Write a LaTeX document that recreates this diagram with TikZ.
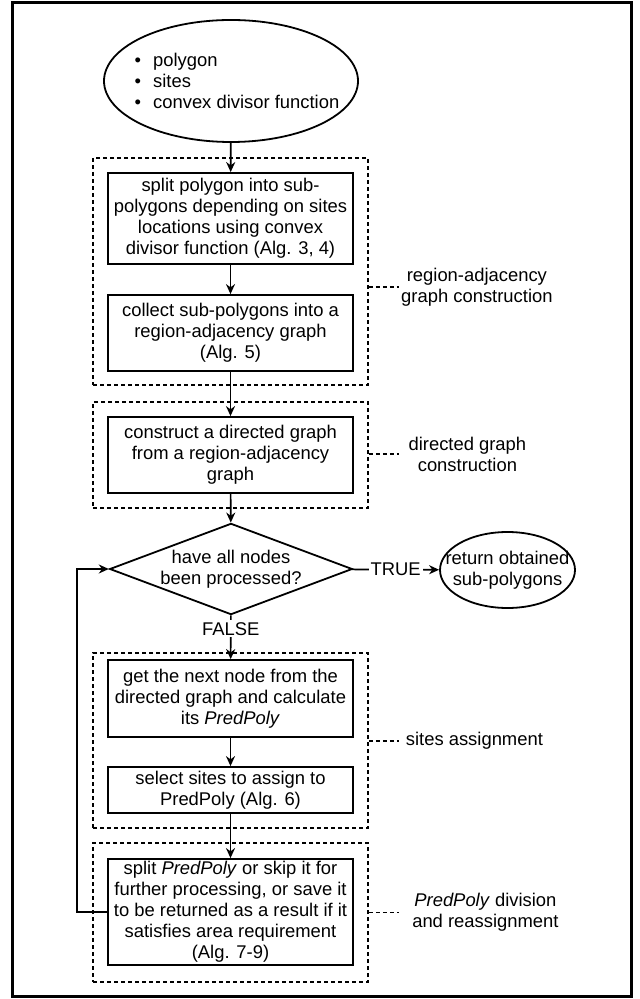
\documentclass[tikz,border=0pt]{standalone}
\usepackage{fontspec}
\setmainfont{Liberation Sans}
\usepackage{tikz}
\usetikzlibrary{calc,shapes.geometric,arrows.meta}

\begin{document}
\begin{tikzpicture}[x=0.5pt, y=-0.5pt, >={Stealth[length=5pt,width=4.5pt]},
        every node/.style={font=\fontsize{9.2pt}{10.5pt}\selectfont},
        stepbox/.style={draw, line width=0.9pt, minimum width=122.5pt, align=center, inner sep=0pt},
        groupbox/.style={draw, dash pattern=on 2pt off 1.5pt, line width=0.8pt, minimum width=137.5pt},
        noteline/.style={dash pattern=on 2pt off 1.5pt, line width=0.8pt},
        note/.style={anchor=west, align=center, inner sep=0pt},
        flow/.style={->, line width=0.8pt}]
        % Frame
        \useasboundingbox (0,0) rectangle (640,999);
        \draw[line width=1.5pt] (12,3) rectangle (631,996);

        % Input
        \node[draw, ellipse, line width=0.9pt, minimum width=127pt, minimum height=61pt, inner sep=0pt,
              label={[align=left, xshift=3pt]center:\textbullet\hspace{6pt}polygon\\\textbullet\hspace{6pt}sites\\\textbullet\hspace{6pt}convex divisor function}] (Input) at (231, 81) {};

        % Groups
        \node[groupbox, minimum height=113.5pt] (GroupRag) at (230.5, 271.5) {};
        \node[groupbox, minimum height=53pt] (GroupDir) at (230.5, 455) {};
        \node[groupbox, minimum height=87.5pt] (GroupSites) at (230.5, 740.5) {};
        \node[groupbox, minimum height=69.5pt] (GroupDiv) at (230.5, 912.5) {};

        % Steps
        \node[stepbox, minimum height=45.5pt] (Split) at (230.5, 218.5) {split polygon into sub-\\polygons depending on sites\\locations using convex\\divisor function (Alg. 3, 4)};
        \node[stepbox, minimum height=38pt] (Collect) at (230.5, 333) {collect sub-polygons into a\\region-adjacency graph\\(Alg. 5)};
        \node[stepbox, minimum height=38pt] (Construct) at (230.5, 455) {construct a directed graph\\from a region-adjacency\\graph};
        \node[draw, diamond, aspect=2.66, line width=0.9pt, minimum width=121pt, minimum height=45.5pt, inner sep=0pt, align=center] (Check) at (231, 569) {have all nodes\\been processed?};
        \node[draw, ellipse, line width=0.9pt, minimum width=67.5pt, minimum height=38pt, inner sep=0pt,
              label={[align=center]center:return obtained\\sub-polygons}] (Result) at (507.5, 570) {};
        \node[stepbox, minimum height=38.5pt] (NextNode) at (230.5, 698.5) {get the next node from the\\directed graph and calculate\\its \textit{PredPoly}};
        \node[stepbox, minimum height=23pt] (SelectSites) at (230.5, 790) {select sites to assign to\\PredPoly (Alg. 6)};
        \node[stepbox, minimum height=53pt] (Divide) at (230.5, 912) {split \textit{PredPoly} or skip it for\\further processing, or save it\\to be returned as a result if it\\satisfies area requirement\\(Alg. 7-9)};

        % Notes
        \node[note, minimum width=77.5pt] (LabelRag) at (399, 287) {region-adjacency\\graph construction};
        \node[note, minimum width=68pt] (LabelDir) at (399, 454) {directed graph\\construction};
        \node[note, minimum width=75pt] (LabelSites) at (399, 741) {sites assignment};
        \node[note, minimum width=86pt] (LabelDiv) at (399, 912.5) {\textit{PredPoly} division\\and reassignment};
        \draw[noteline] (GroupRag.east |- LabelRag.west) -- (LabelRag.west);
        \draw[noteline] (GroupDir.east |- LabelDir.west) -- (LabelDir.west);
        \draw[noteline] (GroupSites.east |- LabelSites.west) -- (LabelSites.west);
        \draw[noteline] (GroupDiv.east |- LabelDiv.west) -- (LabelDiv.west);

        % Flow
        \draw[flow] (Input) -- (Split);
        \draw[flow] (Split) -- (Collect);
        \draw[flow] (Collect) -- (Construct);
        \draw[flow] (Construct) -- (Check);
        \draw[flow] (Check) -- node[pos=0.5, fill=white, inner sep=1pt] {TRUE} (Result);
        \draw[flow] (Check) -- node[pos=0.31, fill=white, inner sep=1pt] {FALSE} (NextNode);
        \draw[flow] (NextNode) -- (SelectSites);
        \draw[flow] (SelectSites) -- (Divide);
        \draw[flow] (Divide.west) -- ++(-30, 0) |- (Check.west);
\end{tikzpicture}
\end{document}
